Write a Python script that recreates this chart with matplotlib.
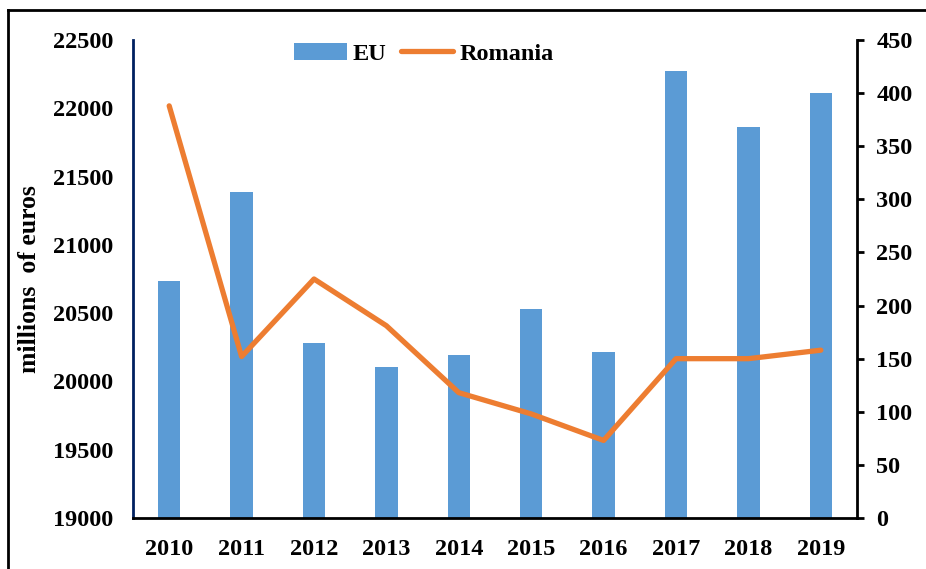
import numpy as np
import matplotlib
matplotlib.use('Agg')
import matplotlib.pyplot as plt
from matplotlib.lines import Line2D

years = ['2010', '2011', '2012', '2013', '2014', '2015', '2016', '2017', '2018', '2019']
eu = [20735, 21387, 20281, 20106, 20193, 20530, 20215, 22273, 21863, 22112]
romania = [388, 152, 225, 181, 118, 98, 73, 150, 150, 158]

plt.rcParams['font.family'] = ['Liberation Serif', 'DejaVu Serif']
plt.rcParams['font.weight'] = 'bold'

fig = plt.figure(figsize=(9.26, 5.69), dpi=100)
ax = fig.add_axes([133/926, 1 - 518/569, (857-133)/926, (518-40)/569])
x = np.arange(len(years))

bars = ax.bar(x, eu, width=0.31, color='#5B9BD5', label='EU', zorder=2)
ax.set_ylim(19000, 22500)
ax.set_xlim(-0.5, len(years) - 0.5)
ax.set_yticks(np.arange(19000, 22501, 500))
ax.set_xticks(x)
ax.set_xticklabels(years)
ax.tick_params(axis='y', length=0, pad=14, labelsize=17.5)
ax.tick_params(axis='x', length=0, pad=15, labelsize=17.5)
ax.set_ylabel('millions  of euros', fontsize=18.5, fontweight='bold', labelpad=9)
ax.spines['top'].set_visible(False)
ax.spines['right'].set_visible(False)
ax.spines['left'].set_color('#002060')
ax.spines['left'].set_linewidth(2)
ax.spines['bottom'].set_linewidth(2)

ax2 = ax.twinx()
line, = ax2.plot(x, romania, color='#ED7D31', linewidth=3.8, label='Romania',
                 solid_capstyle='round', zorder=3)
ax2.set_ylim(0, 450)
ax2.set_yticks(np.arange(0, 451, 50))
ax2.tick_params(axis='y', length=5, width=2, pad=9, labelsize=17.5)
ax2.spines['top'].set_visible(False)
ax2.spines['left'].set_visible(False)
ax2.spines['bottom'].set_visible(False)
ax2.spines['right'].set_linewidth(2)

fig.legend([bars, line], ['EU', 'Romania'], loc='center', ncol=2,
           bbox_to_anchor=(424/926, 1 - 54/569), frameon=False,
           fontsize=17.5, handlelength=2.15, columnspacing=0.6, handletextpad=0.25)

# figure border (top and left edges visible)
fig.add_artist(Line2D([8/926, 8/926], [0, 1 - 10/569], color='black', linewidth=2,
                      transform=fig.transFigure))
fig.add_artist(Line2D([8/926, 1], [1 - 10/569, 1 - 10/569], color='black', linewidth=2,
                      transform=fig.transFigure))

fig.savefig('out.png', dpi=100)
